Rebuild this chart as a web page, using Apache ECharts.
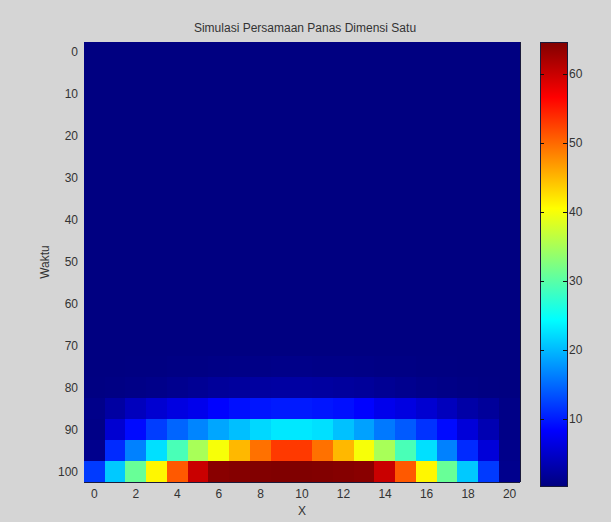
<!DOCTYPE html>
<html>
<head>
<meta charset="utf-8">
<script src="https://cdn.jsdelivr.net/npm/echarts@6/dist/echarts.min.js"></script>
<style>
html,body{margin:0;padding:0;background:#d5d5d5;}
#chart{width:611px;height:522px;}
#chart svg path{shape-rendering:crispEdges;}
</style>
</head>
<body>
<div id="chart"></div>
<script>
// Categories
var xCategories = [0,1,2,3,4,5,6,7,8,9,10,11,12,13,14,15,16,17,18,19,20];
var tCategories = [0,5,10,15,20,25,30,35,40,45,50,55,60,65,70,75,80,85,90,95,100];
var colorbarTicks = [10,20,30,40,50,60];
var valueMin = 0.35, valueMax = 64.6;

// Values per time row
var coldRow = [0.4,0.4,0.4,0.4,0.4,0.4,0.4,0.4,0.4,0.4,0.4,0.4,0.4,0.4,0.4,0.4,0.4,0.4,0.4,0.4,0.4];
var row75  = [0.4,0.4,0.5,0.5,0.6,0.6,0.7,0.8,0.8,0.9,0.9,0.8,0.8,0.7,0.6,0.6,0.5,0.5,0.4,0.4,0.4];
var row80  = [0.5,0.6,0.8,1.0,1.3,1.6,2.0,2.2,2.4,2.5,2.5,2.4,2.2,2.0,1.6,1.3,1.0,0.8,0.6,0.5,0.4];
var row85  = [1.0,2.5,4.2,5.5,6.5,7.2,8.5,9.3,9.7,10,10,9.7,9.3,8.5,7.2,6.5,5.5,4.2,2.8,2.0,0.8];
var row90  = [0.8,5.5,9.0,12.2,14.7,16.7,18.8,20.4,22,23,23,22.5,20.5,18.5,16,14,11.5,9.0,6.0,3.5,0.8];
var row95  = [1.2,11,16.5,22.5,29,35,40,45,49.5,53,53,49.5,45,40,35,29,22.5,16.5,11,6.0,1.0];
var row100 = [12,21,31,41,51,60,64,64.3,64.5,64.6,64.6,64.5,64.3,64,60,51,41,31,21,12,1.2];

var rows = [coldRow,coldRow,coldRow,coldRow,coldRow,coldRow,coldRow,coldRow,coldRow,coldRow,
            coldRow,coldRow,coldRow,coldRow,coldRow,row75,row80,row85,row90,row95,row100];

var heatData = [];
for (var r = 0; r < tCategories.length; r++) {
  for (var c = 0; c < xCategories.length; c++) {
    heatData.push([c, r, rows[r][c]]);
  }
}

var jet = ['#000080','#0000ff','#0080ff','#00ffff','#80ff80','#ffff00','#ff8000','#ff0000','#800000'];
var stops = jet.map(function(col, i){ return {offset: i/(jet.length-1), color: col}; });

var font = {fontFamily:'Liberation Sans, Arial, sans-serif', fontSize:12, color:'#333'};
var lineCol = '#1a1a3a';

var chart = echarts.init(document.getElementById('chart'), null, {renderer:'svg'});
chart.setOption({
  backgroundColor:'#d5d5d5',
  animation:false,
  title:{
    text:'Simulasi Persamaan Panas Dimensi Satu',
    left:300, top:17, textAlign:'center',
    textStyle:{fontFamily:font.fontFamily, fontSize:12, fontWeight:'normal', color:'#333'}
  },
  grid:[
    {left:84, top:42, width:436, height:444, containLabel:false,
     show:true, backgroundColor:'#000083', borderWidth:0},
    {left:540, top:42, width:27, height:444, show:true,
     backgroundColor:new echarts.graphic.LinearGradient(0,1,0,0,stops),
     borderColor:lineCol, borderWidth:1}
  ],
  xAxis:[
    {type:'category', gridIndex:0, data:xCategories, position:'bottom',
     name:'X', nameLocation:'middle', nameGap:23, nameMoveOverlap:false, nameTextStyle:font,
     axisLine:{show:true, lineStyle:{color:lineCol}},
     axisTick:{show:true, inside:true, alignWithLabel:true, interval:1, length:4, lineStyle:{color:'#111'}},
     axisLabel:Object.assign({interval:1, margin:6}, font),
     splitLine:{show:false}},
    {type:'category', gridIndex:0, data:xCategories, position:'top',
     axisLine:{show:true, lineStyle:{color:lineCol}},
     axisTick:{show:true, inside:true, alignWithLabel:true, interval:1, length:4, lineStyle:{color:'#111'}},
     axisLabel:{show:false}, splitLine:{show:false}},
    {type:'category', gridIndex:1, data:['c'], show:false}
  ],
  yAxis:[
    {type:'category', gridIndex:0, data:tCategories, inverse:true, position:'left',
     name:'Waktu', nameLocation:'middle', nameGap:33, nameMoveOverlap:false, nameRotate:90, nameTextStyle:font,
     axisLine:{show:true, lineStyle:{color:lineCol}},
     axisTick:{show:true, inside:true, alignWithLabel:true, interval:1, length:4, lineStyle:{color:'#111'}},
     axisLabel:Object.assign({interval:1, margin:6}, font),
     splitLine:{show:false}},
    {type:'category', gridIndex:0, data:tCategories, inverse:true, position:'right',
     axisLine:{show:true, lineStyle:{color:lineCol}},
     axisTick:{show:true, inside:true, alignWithLabel:true, interval:1, length:4, lineStyle:{color:'#111'}},
     axisLabel:{show:false}, splitLine:{show:false}},
    {type:'value', gridIndex:1, min:valueMin, max:valueMax, position:'right',
     axisLine:{show:false},
     axisTick:{show:true, inside:true, length:4, customValues:colorbarTicks, lineStyle:{color:'#111'}},
     axisLabel:Object.assign({margin:2, customValues:colorbarTicks}, font),
     splitLine:{show:false}},
    {type:'value', gridIndex:1, min:valueMin, max:valueMax, position:'left',
     axisLine:{show:false},
     axisTick:{show:true, inside:true, length:4, customValues:colorbarTicks, lineStyle:{color:'#111'}},
     axisLabel:{show:false},
     splitLine:{show:false}}
  ],
  visualMap:{
    show:false, type:'continuous', min:valueMin, max:valueMax, dimension:2, seriesIndex:0,
    inRange:{color:jet}
  },
  series:[{
    type:'heatmap', xAxisIndex:0, yAxisIndex:0, data:heatData,
    emphasis:{disabled:true}, progressive:0
  }]
});
</script>
</body>
</html>
